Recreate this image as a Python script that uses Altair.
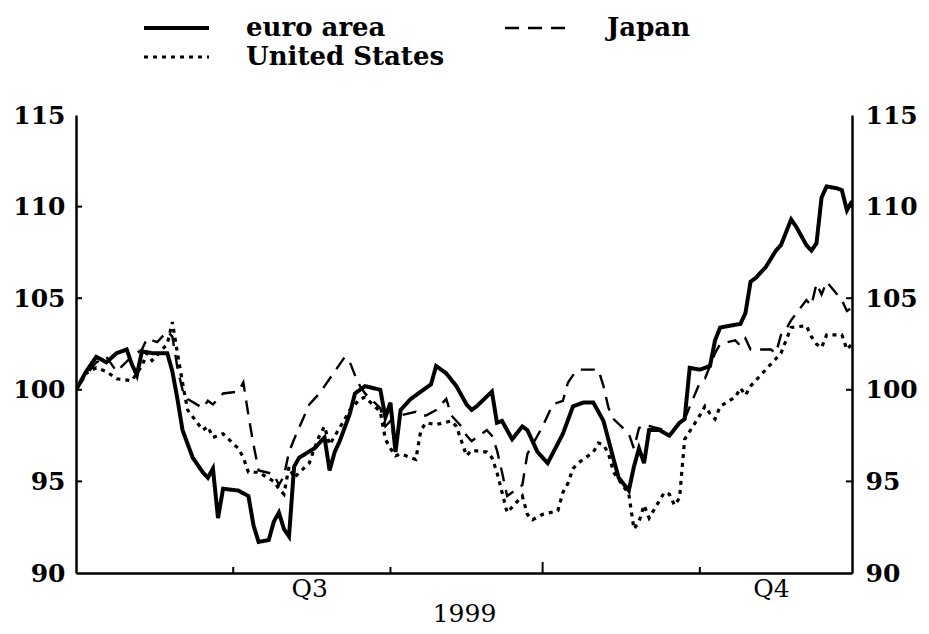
import altair as alt
import pandas as pd

# ---------------- data ----------------
euro_dates = ["1999-07-01","1999-07-03","1999-07-05","1999-07-07","1999-07-09","1999-07-11","1999-07-12","1999-07-13",
    "1999-07-14","1999-07-16","1999-07-19","1999-07-20","1999-07-21","1999-07-22","1999-07-24","1999-07-26",
    "1999-07-27","1999-07-28","1999-07-29","1999-07-30","1999-08-02","1999-08-04","1999-08-05","1999-08-06",
    "1999-08-08","1999-08-09","1999-08-10","1999-08-11","1999-08-12","1999-08-13","1999-08-14","1999-08-17",
    "1999-08-19","1999-08-20","1999-08-21","1999-08-22","1999-08-24","1999-08-25","1999-08-27","1999-08-30",
    "1999-08-31","1999-09-01","1999-09-02","1999-09-03","1999-09-05","1999-09-07","1999-09-09","1999-09-10",
    "1999-09-12","1999-09-14","1999-09-16","1999-09-17","1999-09-18","1999-09-21","1999-09-22","1999-09-23",
    "1999-09-25","1999-09-27","1999-09-28","1999-09-30","1999-10-02","1999-10-05","1999-10-07","1999-10-09",
    "1999-10-11","1999-10-13","1999-10-15","1999-10-16","1999-10-18","1999-10-19","1999-10-20","1999-10-21",
    "1999-10-22","1999-10-24","1999-10-26","1999-10-28","1999-10-29","1999-10-30","1999-11-01","1999-11-03",
    "1999-11-04","1999-11-05","1999-11-09","1999-11-10","1999-11-11","1999-11-12","1999-11-14","1999-11-16",
    "1999-11-17","1999-11-19","1999-11-20","1999-11-22","1999-11-23","1999-11-24","1999-11-25","1999-11-26",
    "1999-11-28","1999-11-29","1999-11-30","1999-12-01"]
euro_values = [100.0,101.0,101.8,101.5,102.0,102.2,101.4,100.8,
    102.1,102.0,102.0,101.0,99.5,97.8,96.3,95.5,
    95.2,95.7,93.0,94.6,94.5,94.2,92.6,91.7,
    91.8,92.8,93.3,92.4,92.0,95.8,96.3,96.8,
    97.4,95.6,96.6,97.2,98.7,99.8,100.2,100.0,
    98.5,99.3,96.6,98.9,99.5,99.9,100.3,101.3,
    100.9,100.2,99.2,98.9,99.1,99.9,98.2,98.3,
    97.3,98.0,97.8,96.6,96.0,97.6,99.1,99.3,
    99.3,98.3,96.2,95.2,94.5,95.8,96.8,96.0,
    97.8,97.8,97.5,98.2,98.4,101.2,101.1,101.3,
    102.7,103.4,103.6,104.2,105.9,106.1,106.7,107.6,
    107.9,109.3,108.9,107.9,107.6,108.0,110.5,111.1,
    111.0,110.9,109.8,110.3]

japan_dates = ["1999-07-01","1999-07-03","1999-07-05","1999-07-07","1999-07-09","1999-07-12","1999-07-14","1999-07-15",
    "1999-07-17","1999-07-19","1999-07-20","1999-07-21","1999-07-22","1999-07-23","1999-07-26","1999-07-27",
    "1999-07-28","1999-07-30","1999-08-02","1999-08-03","1999-08-04","1999-08-05","1999-08-06","1999-08-09",
    "1999-08-10","1999-08-11","1999-08-12","1999-08-13","1999-08-16","1999-08-18","1999-08-19","1999-08-21",
    "1999-08-23","1999-08-24","1999-08-25","1999-08-26","1999-08-27","1999-08-30","1999-08-31","1999-09-01",
    "1999-09-02","1999-09-03","1999-09-06","1999-09-07","1999-09-08","1999-09-10","1999-09-12","1999-09-13",
    "1999-09-15","1999-09-16","1999-09-17","1999-09-20","1999-09-21","1999-09-22","1999-09-23","1999-09-24",
    "1999-09-27","1999-09-28","1999-09-29","1999-10-01","1999-10-03","1999-10-05","1999-10-06","1999-10-07",
    "1999-10-08","1999-10-11","1999-10-12","1999-10-13","1999-10-14","1999-10-15","1999-10-18","1999-10-19",
    "1999-10-20","1999-10-21","1999-10-25","1999-10-26","1999-10-28","1999-10-29","1999-11-01","1999-11-02",
    "1999-11-04","1999-11-05","1999-11-08","1999-11-09","1999-11-10","1999-11-11","1999-11-15","1999-11-16",
    "1999-11-17","1999-11-18","1999-11-19","1999-11-22","1999-11-23","1999-11-24","1999-11-25","1999-11-26",
    "1999-11-29","1999-11-30","1999-12-01"]
japan_values = [100.0,100.8,101.5,101.8,101.0,101.8,102.2,102.8,
    102.6,103.2,102.9,101.2,100.0,99.5,99.0,99.4,
    99.2,99.8,99.9,100.4,98.6,97.0,95.6,95.4,
    94.8,95.3,96.6,97.3,99.2,99.8,100.2,101.0,
    101.8,101.5,100.8,100.2,99.8,99.0,98.0,98.3,
    97.0,98.6,98.8,98.6,98.6,98.9,99.5,98.6,
    98.0,97.5,97.2,97.8,97.5,96.7,95.5,94.2,
    94.8,96.5,97.0,98.0,99.2,99.4,100.4,100.8,
    101.1,101.1,101.1,100.2,99.0,98.4,97.6,96.8,
    97.9,98.1,97.8,97.5,98.2,98.4,100.4,100.6,
    102.0,102.5,102.7,102.4,102.8,102.2,102.2,102.0,
    103.0,103.3,103.8,104.9,104.6,105.8,105.2,105.9,
    104.9,104.3,104.5]

us_dates = ["1999-07-01","1999-07-03","1999-07-05","1999-07-07","1999-07-09","1999-07-12","1999-07-14","1999-07-15",
    "1999-07-16","1999-07-19","1999-07-20","1999-07-21","1999-07-22","1999-07-23","1999-07-26","1999-07-27",
    "1999-07-28","1999-07-30","1999-08-02","1999-08-03","1999-08-04","1999-08-06","1999-08-09","1999-08-10",
    "1999-08-11","1999-08-12","1999-08-13","1999-08-16","1999-08-17","1999-08-18","1999-08-19","1999-08-20",
    "1999-08-23","1999-08-24","1999-08-26","1999-08-27","1999-08-30","1999-08-31","1999-09-01","1999-09-02",
    "1999-09-03","1999-09-06","1999-09-07","1999-09-08","1999-09-10","1999-09-13","1999-09-14","1999-09-15",
    "1999-09-16","1999-09-17","1999-09-20","1999-09-21","1999-09-22","1999-09-23","1999-09-24","1999-09-27",
    "1999-09-28","1999-09-29","1999-10-01","1999-10-04","1999-10-05","1999-10-06","1999-10-07","1999-10-08",
    "1999-10-11","1999-10-12","1999-10-13","1999-10-14","1999-10-15","1999-10-18","1999-10-19","1999-10-20",
    "1999-10-21","1999-10-22","1999-10-25","1999-10-26","1999-10-27","1999-10-28","1999-10-29","1999-11-01",
    "1999-11-02","1999-11-03","1999-11-04","1999-11-05","1999-11-08","1999-11-09","1999-11-10","1999-11-11",
    "1999-11-12","1999-11-15","1999-11-16","1999-11-17","1999-11-18","1999-11-19","1999-11-22","1999-11-23",
    "1999-11-24","1999-11-25","1999-11-26","1999-11-29","1999-11-30","1999-12-01"]
us_values = [100.0,100.9,101.2,101.0,100.6,100.5,101.3,102.0,
    101.6,102.5,103.7,102.0,100.4,98.9,97.8,98.0,
    97.4,97.6,96.8,96.3,95.5,95.5,95.0,94.6,
    94.3,95.8,95.2,96.0,96.8,97.5,98.0,97.0,
    98.4,98.9,99.5,99.6,98.8,97.3,96.8,96.4,
    96.5,96.2,97.8,98.2,98.1,98.3,98.0,97.2,
    96.4,96.7,96.6,96.3,95.5,94.4,93.3,94.2,
    93.2,92.9,93.2,93.4,94.4,94.9,95.7,96.0,
    96.6,97.1,97.0,96.5,95.5,94.3,92.4,92.8,
    93.7,93.0,94.4,94.3,93.7,94.1,97.3,98.6,
    99.1,98.7,98.4,99.1,99.6,100.1,99.7,100.2,
    100.5,101.4,101.7,102.0,102.7,103.4,103.5,102.9,
    102.5,102.3,103.0,103.0,102.2,102.5]

series_names = ["euro area", "Japan", "United States"]
legend_order = ["euro area", "United States", "Japan"]  # column-major fill -> euro/Japan on row 1
y_ticks = [90, 95, 100, 105, 110, 115]
inner_y_ticks = [95, 100, 105, 110]
month_ticks = ["1999-08-01", "1999-09-01", "1999-11-01"]
quarter_ticks = ["1999-10-01"]

# ---------------- tables ----------------
df = pd.concat([
    pd.DataFrame({"date": euro_dates, "value": euro_values, "series": "euro area"}),
    pd.DataFrame({"date": japan_dates, "value": japan_values, "series": "Japan"}),
    pd.DataFrame({"date": us_dates, "value": us_values, "series": "United States"}),
])
ytick_df = pd.DataFrame({"value": inner_y_ticks})
mtick_df = pd.DataFrame({"date": month_ticks})
qtick_df = pd.DataFrame({"date": quarter_ticks})

W, H = 776, 458
FONT = "DejaVu Serif"

xscale = alt.Scale(type="utc", domain=[alt.DateTime(year=1999, month=7, date=1, utc=True),
                                       alt.DateTime(year=1999, month=12, date=1, utc=True)])
yscale = alt.Scale(domain=[90, 115], nice=False, zero=False)

xaxis = alt.Axis(
    values=[alt.DateTime(year=1999, month=8, date=16, utc=True),
            alt.DateTime(year=1999, month=11, date=15, utc=True)],
    labelExpr="utcmonth(datum.value) < 9 ? 'Q3' : 'Q4'",
    ticks=False, grid=False, domainColor="black", domainWidth=2.5,
    labelFont=FONT, labelFontSize=25, labelFontWeight="normal", labelColor="black",
    labelPadding=3, labelFlush=False,
    title="1999", titleFont=FONT, titleFontSize=25, titleFontWeight="normal",
    titleColor="black", titlePadding=0,
)

def yaxis(orient, pad):
    return alt.Axis(orient=orient, values=y_ticks, ticks=False, grid=False,
                    domainColor="black", domainWidth=2.5,
                    labelFont=FONT, labelFontSize=25, labelFontWeight="bold",
                    labelColor="black", labelPadding=pad, title=None)

lines = alt.Chart(df).mark_line(clip=True).encode(
    x=alt.X("date:T", scale=xscale, axis=xaxis),
    y=alt.Y("value:Q", scale=yscale, axis=yaxis("left", 11)),
    color=alt.Color("series:N", sort=legend_order,
                    scale=alt.Scale(domain=legend_order, range=["black", "black", "black"]),
                    legend=alt.Legend(title=None, orient="none", legendX=66, legendY=-99,
                                      columns=2, columnPadding=58, rowPadding=3,
                                      clipHeight=24,
                                      symbolType="stroke", symbolSize=4225,
                                      labelFont=FONT, labelFontSize=26, labelFontWeight="bold",
                                      labelColor="black", labelOffset=35, labelLimit=400,
                                      padding=0)),
    strokeDash=alt.StrokeDash("series:N", sort=legend_order,
                              scale=alt.Scale(domain=legend_order, range=[[1, 0], [4, 5], [14, 9]])),
    strokeWidth=alt.StrokeWidth("series:N", sort=legend_order,
                                scale=alt.Scale(domain=legend_order, range=[4, 2.4, 2.4])),
    detail="series:N",
)

right_ticks = alt.Chart(ytick_df).mark_rule(color="black", strokeWidth=2).encode(
    y=alt.Y("value:Q", scale=yscale, axis=yaxis("right", 13)),
    x=alt.value(W - 6), x2=alt.value(W),
)
left_ticks = alt.Chart(ytick_df).mark_rule(color="black", strokeWidth=2).encode(
    y=alt.Y("value:Q", scale=yscale, axis=None),
    x=alt.value(0), x2=alt.value(6),
)
m_ticks = alt.Chart(mtick_df).mark_rule(color="black", strokeWidth=2).encode(
    x=alt.X("date:T", scale=xscale, axis=xaxis),
    y=alt.value(H), y2=alt.value(H - 6),
)
q_ticks = alt.Chart(qtick_df).mark_rule(color="black", strokeWidth=2).encode(
    x=alt.X("date:T", scale=xscale, axis=xaxis),
    y=alt.value(H), y2=alt.value(H - 11),
)

chart = alt.layer(lines, right_ticks, left_ticks, m_ticks, q_ticks).resolve_axis(
    y="independent"
).resolve_scale(y="shared").properties(
    width=W, height=H,
    autosize=alt.AutoSizeParams(type="none"),
    padding={"left": 68, "top": 107, "right": 69, "bottom": 53},
    background="white",
).configure_view(stroke=None)

chart.save("out.html", embed_options={"renderer": "svg", "actions": False})
